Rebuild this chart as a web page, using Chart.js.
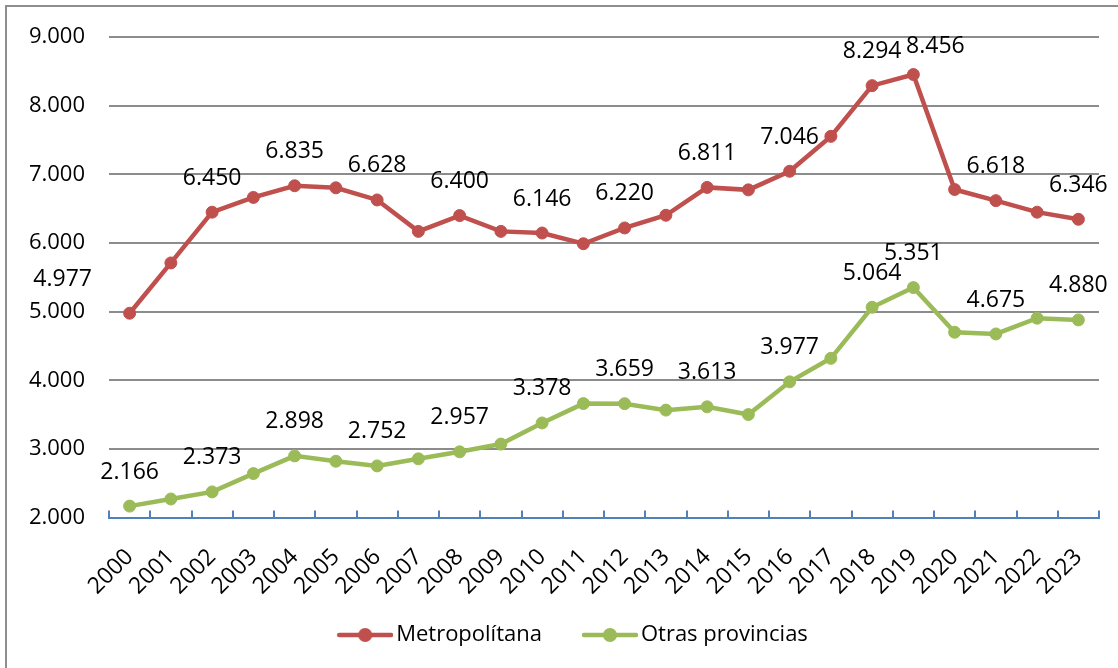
<!DOCTYPE html>
<html lang="es">
<head>
<meta charset="utf-8">
<title>Metropolítana y Otras provincias, 2000-2023</title>
<script src="https://cdn.jsdelivr.net/npm/chart.js@4.4.1/dist/chart.umd.min.js"></script>
<style>
  html, body { margin: 0; padding: 0; background: #fff; overflow: hidden; }
  #marco { position: absolute; left: 5px; top: 5px; width: 1300px; height: 900px; border: 2px solid #8e8e8e; }
  #wrap { position: absolute; left: 0; top: 0; width: 1118px; height: 668px; }
</style>
</head>
<body>
<div id="marco"></div>
<div id="wrap"><canvas id="grafico"></canvas></div>
<script>
// años del eje X
const anios = ["2000", "2001", "2002", "2003", "2004", "2005", "2006", "2007", "2008", "2009", "2010", "2011",
               "2012", "2013", "2014", "2015", "2016", "2017", "2018", "2019", "2020", "2021", "2022", "2023"];

// series (las que no tienen etiqueta se leen del gráfico)
const metropolitana = [4977, 5710, 6450, 6665, 6835, 6805, 6628, 6170, 6400, 6170, 6146, 5990,
                       6220, 6405, 6811, 6775, 7046, 7555, 8294, 8456, 6780, 6618, 6450, 6346];
const otrasProvincias = [2166, 2270, 2373, 2640, 2898, 2820, 2752, 2855, 2957, 3070, 3378, 3660,
                         3659, 3565, 3613, 3500, 3977, 4320, 5064, 5351, 4700, 4675, 4905, 4880];

// eje Y
const yMin = 2000;
const yMax = 9000;
const yPaso = 1000;

// puntos que llevan etiqueta de valor
const conEtiqueta = [0, 2, 4, 6, 8, 10, 12, 14, 16, 18, 19, 21, 23];

const ROJO = "#c0504d";
const VERDE = "#9bbb59";
const AZUL = "#4f81bd";

Chart.defaults.font.family = '"Open Sans", sans-serif';
Chart.defaults.color = "#000";

// 9000 -> "9.000"
function fmt(v) {
  return String(Math.round(v)).replace(/\B(?=(\d{3})+(?!\d))/g, ".");
}

// icono de la leyenda: línea con un punto en medio
function iconoLeyenda(color) {
  const c = document.createElement("canvas");
  c.width = 94;
  c.height = 16;
  const g = c.getContext("2d");
  g.strokeStyle = color;
  g.lineWidth = 4.5;
  g.lineCap = "round";
  g.beginPath();
  g.moveTo(40, 8);
  g.lineTo(92, 8);
  g.stroke();
  g.fillStyle = color;
  g.beginPath();
  g.arc(66, 8, 7, 0, Math.PI * 2);
  g.fill();
  return c;
}
const iconos = [iconoLeyenda(ROJO), iconoLeyenda(VERDE)];

// desplazamientos de algunas etiquetas (dataset -> índice -> [dx, dy])
const ajustes = { 0: { 0: [-67, 0], 19: [22, 6] } };

// etiquetas de valor sobre los puntos
const etiquetas = {
  id: "etiquetas",
  afterDatasetsDraw(chart) {
    const ctx = chart.ctx;
    ctx.save();
    ctx.font = '23px "Open Sans"';
    ctx.fillStyle = "#000";
    ctx.textAlign = "center";
    ctx.textBaseline = "middle";
    chart.data.datasets.forEach((ds, d) => {
      const meta = chart.getDatasetMeta(d);
      for (const i of conEtiqueta) {
        const p = meta.data[i];
        const aj = (ajustes[d] && ajustes[d][i]) || [0, 0];
        ctx.fillText(fmt(ds.data[i]), p.x + aj[0], p.y - 34 + aj[1]);
      }
    });
    ctx.restore();
  }
};

// la leyenda está un poco a la derecha del centro
const moverLeyenda = {
  id: "moverLeyenda",
  afterLayout(chart) {
    if (chart.legend) {
      chart.legend.left += 8;
      chart.legend.right += 8;
    }
  }
};

new Chart(document.getElementById("grafico"), {
  type: "line",
  data: {
    labels: anios,
    datasets: [
      {
        label: "Metropolítana",
        data: metropolitana,
        borderColor: ROJO,
        backgroundColor: ROJO,
        borderWidth: 4.5,
        pointRadius: 6,
        pointBorderWidth: 1,
        tension: 0
      },
      {
        label: "Otras provincias",
        data: otrasProvincias,
        borderColor: VERDE,
        backgroundColor: VERDE,
        borderWidth: 4.5,
        pointRadius: 6,
        pointBorderWidth: 1,
        tension: 0
      }
    ]
  },
  options: {
    responsive: true,
    maintainAspectRatio: false,
    animation: false,
    layout: { padding: { top: 36, right: 19, bottom: 12, left: 0 } },
    plugins: {
      tooltip: { enabled: false },
      legend: {
        position: "bottom",
        labels: {
          usePointStyle: true,
          pointStyleWidth: 78,
          padding: 10,
          font: { size: 22 },
          color: "#000",
          generateLabels(chart) {
            const items = Chart.defaults.plugins.legend.labels.generateLabels(chart);
            items.forEach((it, i) => { it.pointStyle = iconos[i]; });
            return items;
          }
        }
      }
    },
    scales: {
      x: {
        offset: true,
        grid: {
          offset: true,
          drawOnChartArea: false,
          drawTicks: true,
          tickLength: -7,
          color: AZUL,
          lineWidth: 2
        },
        border: { color: AZUL, width: 2 },
        ticks: {
          autoSkip: false,
          minRotation: 45,
          maxRotation: 45,
          padding: 33,
          color: "#000",
          font: { size: 23 }
        },
        afterFit(s) {
          s.height = 96.5;
          s.paddingLeft = 0;
          s.paddingRight = 0;
        }
      },
      y: {
        min: yMin,
        max: yMax,
        ticks: {
          stepSize: yPaso,
          padding: 24,
          color: "#000",
          font: { size: 22 },
          callback: v => fmt(v)
        },
        grid: {
          drawTicks: false,
          lineWidth: 2,
          color: c => (c.tick && c.tick.value === yMin ? "rgba(0,0,0,0)" : "#8c8c8c")
        },
        border: { display: false },
        afterFit(s) { s.width = 109; }
      }
    }
  },
  plugins: [etiquetas, moverLeyenda]
});
</script>
</body>
</html>
